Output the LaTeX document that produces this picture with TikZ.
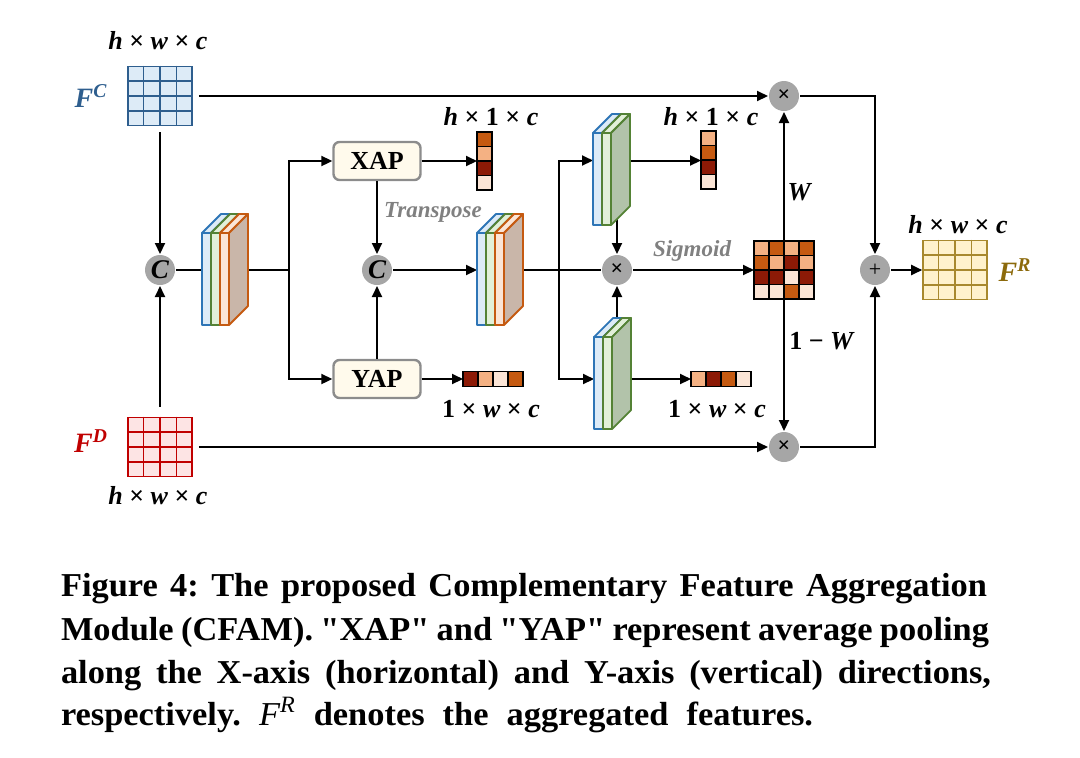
\documentclass[tikz,border=0pt]{standalone}
\usepackage{fontspec}
\setmainfont{Liberation Serif}[Ligatures=TeXOff]
\newfontfamily\capfont{Liberation Serif}[Ligatures=TeXOff, FakeStretch=1.03]
\usetikzlibrary{arrows.meta,calc}
\frenchspacing

\definecolor{fcblue}{HTML}{2E5E8E}
\definecolor{fcfill}{HTML}{DDEBF7}
\definecolor{fdred}{HTML}{C00000}
\definecolor{fdfill}{HTML}{FDE4E4}
\definecolor{frgold}{HTML}{A8892E}
\definecolor{frfill}{HTML}{FFF2CC}
\definecolor{frtext}{HTML}{8C6A0C}
\definecolor{lblue}{HTML}{2E75B6}
\definecolor{lbluefill}{HTML}{DDEBF7}
\definecolor{lblueside}{HTML}{BDD7EE}
\definecolor{lgreen}{HTML}{548235}
\definecolor{lgreenfill}{HTML}{E2F0D9}
\definecolor{lgreenside}{HTML}{B2C3AA}
\definecolor{lorange}{HTML}{C55A11}
\definecolor{lorangefill}{HTML}{FBE5D6}
\definecolor{lorangeside}{HTML}{C9B6A9}
\definecolor{vdark}{HTML}{C55A11}
\definecolor{vlight}{HTML}{F4B183}
\definecolor{vred}{HTML}{8C1A06}
\definecolor{vpale}{HTML}{FBE5D6}
\definecolor{opgray}{HTML}{A6A6A6}
\definecolor{boxgray}{HTML}{8C8C8C}
\definecolor{boxfill}{HTML}{FFFAEC}
\definecolor{notegray}{HTML}{808080}

% one layer of a feature stack: x, front top, edge, fill, side fill
\newcommand{\featslab}[5]{%
  \filldraw[draw=#3, fill=#4, line width=0.9pt, line join=round] (#1,#2) rectangle ++(9,92);
  \filldraw[draw=#3, fill=#4, line width=0.9pt, line join=round] (#1,#2) -- ++(19,-19) -- ++(9,0) -- ++(-19,19) -- cycle;
  \filldraw[draw=#3, fill=#5, line width=0.9pt, line join=round] (#1+9,#2) -- ++(19,-19) -- ++(0,92) -- ++(-19,19) -- cycle;
}
% 4x4 feature map: name, x, y, edge, fill
\newcommand{\featgrid}[5]{%
  \node[draw=#4, fill=#5, line width=0.8pt, inner sep=0pt, minimum width=32pt, minimum height=29.5pt] (#1) at (#2,#3) {};
  \foreach \k in {1,2,3} {
    \draw[#4, line width=0.8pt] ($(#1.north west)!\k/4!(#1.north east)$) -- ($(#1.south west)!\k/4!(#1.south east)$);
    \draw[#4, line width=0.8pt] ($(#1.north west)!\k/4!(#1.south west)$) -- ($(#1.north east)!\k/4!(#1.south east)$);
  }
}

\begin{document}
\begin{tikzpicture}[x=0.5pt, y=-0.5pt, line width=1pt, >={Triangle[length=5.5pt,width=5pt]},
  op/.style={circle, fill=opgray, inner sep=0pt, minimum size=15pt, font=\fontsize{11}{11}\selectfont\bfseries},
  cat/.style={op, font=\fontsize{13.5}{13.5}\selectfont\bfseries\itshape},
  pool/.style={draw=boxgray, line width=1.2pt, fill=boxfill, rounded corners=3pt, minimum width=43.5pt, minimum height=19pt, font=\fontsize{13}{13}\selectfont\bfseries},
  spot/.style={inner sep=0pt, outer sep=0pt},
  dims/.style={font=\fontsize{13}{15}\selectfont\bfseries},
  flab/.style={font=\fontsize{14}{14}\selectfont\bfseries\itshape},
  note/.style={text=notegray, font=\fontsize{11.5}{13}\selectfont\bfseries\itshape},
  capline/.style={anchor=base west, inner sep=0pt, font=\capfont\fontsize{16.7}{20}\selectfont\bfseries}]
\useasboundingbox (0,0) rectangle (1080,757);

% feature maps
\featgrid{gc}{160}{96}{fcblue}{fcfill}
\featgrid{gd}{160}{447}{fdred}{fdfill}
\featgrid{gr}{955}{270}{frgold}{frfill}

% operators and pooling
\node[cat] (c1) at (160,270) {C};
\node[cat] (c2) at (377,270) {C};
\node[op] (m1) at (617,270) {×};
\node[op] (m2) at (784,96) {×};
\node[op] (m3) at (784,447) {×};
\node[op] (a1) at (875,270) {\mdseries +};
\node[pool] (xap) at (377,161) {XAP};
\node[pool] (yap) at (377,379) {YAP};

% places of stacks and vectors
\node[spot, minimum width=23pt, minimum height=55.5pt] (s1) at (225,270) {};
\node[spot, minimum width=23pt, minimum height=55.5pt] (s2) at (500,270) {};
\node[spot, minimum width=18.5pt, minimum height=55pt] (s3) at (611.5,169) {};
\node[spot, minimum width=18.5pt, minimum height=55pt] (s4) at (612.5,373) {};
\node[spot, minimum width=7.5pt, minimum height=29pt] (vx1) at (484.5,161) {};
\node[spot, minimum width=30pt, minimum height=7.5pt] (vy1) at (493,379) {};
\node[spot, minimum width=7.5pt, minimum height=29pt] (vx2) at (708.5,160.5) {};
\node[spot, minimum width=30pt, minimum height=7.5pt] (vy2) at (721,379) {};
\node[spot, minimum width=30pt, minimum height=29pt] (wm) at (784,270) {};
\coordinate (j1) at (289,270);
\coordinate (j2) at (559,270);

% connectors
\draw[->, shorten <=3pt] (gc) -- (m2);
\draw[->, shorten <=3pt] (gc) -- (c1);
\draw[->, shorten <=5pt] (gd) -- (c1);
\draw[->, shorten <=3pt] (gd) -- (m3);
\draw (c1) -- (s1);
\draw (s1) -- (j1);
\draw[->] (j1) |- (xap);
\draw[->] (j1) |- (yap);
\draw[->] (xap) -- (vx1);
\draw[->] (yap) -- (vy1);
\draw[->] (xap) -- (c2);
\draw[->] (yap) -- (c2);
\draw[->] (c2) -- (s2);
\draw (s2) -- (m1);
\draw[->] (j2) |- (s3.west |- vx2);
\draw[->] (j2) |- (s4.west |- vy2);
\draw[->] (s3.east |- vx2) -- (vx2);
\draw[->] (s4.east |- vy2) -- (vy2);
\draw[->] (m1 |- s3.center) -- (m1);
\draw[->] (m1 |- s4.center) -- (m1);
\draw[->] (m1) -- (wm);
\draw[->] (wm) -- (m2);
\draw[->] (wm) -- (m3);
\draw[->] (m2) -| (a1);
\draw[->] (m3) -| (a1);
\draw[->] (a1) -- (gr);

% feature stacks
\featslab{202}{233}{lblue}{lbluefill}{lblueside}
\featslab{211}{233}{lgreen}{lgreenfill}{lgreenside}
\featslab{220}{233}{lorange}{lorangefill}{lorangeside}
\featslab{477}{233}{lblue}{lbluefill}{lblueside}
\featslab{486}{233}{lgreen}{lgreenfill}{lgreenside}
\featslab{495}{233}{lorange}{lorangefill}{lorangeside}
\featslab{593}{133}{lblue}{lbluefill}{lblueside}
\featslab{602}{133}{lgreen}{lgreenfill}{lgreenside}
\featslab{594}{337}{lblue}{lbluefill}{lblueside}
\featslab{603}{337}{lgreen}{lgreenfill}{lgreenside}

% pooled vectors
\foreach \c [count=\k from 0] in {vdark,vlight,vred,vpale}
  \filldraw[fill=\c, draw=black, line width=0.75pt] (477,132+\k*14.5) rectangle ++(15,14.5);
\foreach \c [count=\k from 0] in {vred,vlight,vpale,vdark}
  \filldraw[fill=\c, draw=black, line width=0.75pt] (463+\k*15,371.5) rectangle ++(15,15);
\foreach \c [count=\k from 0] in {vlight,vdark,vred,vpale}
  \filldraw[fill=\c, draw=black, line width=0.75pt] (701,131+\k*14.5) rectangle ++(15,14.5);
\foreach \c [count=\k from 0] in {vlight,vred,vdark,vpale}
  \filldraw[fill=\c, draw=black, line width=0.75pt] (691+\k*15,371.5) rectangle ++(15,15);

% weight map
\foreach \row [count=\r from 0] in {{vlight,vdark,vlight,vdark},{vdark,vlight,vred,vlight},{vred,vred,vpale,vred},{vpale,vpale,vdark,vpale}}
  \foreach \c [count=\k from 0] in \row
    \filldraw[fill=\c, draw=black, line width=0.75pt] (754+\k*15,241+\r*14.5) rectangle ++(15,14.5);

% labels
\node[dims] at (158,41) {\textit{h} × \textit{w} × \textit{c}};
\node[dims] at (158,496) {\textit{h} × \textit{w} × \textit{c}};
\node[dims] at (958,225) {\textit{h} × \textit{w} × \textit{c}};
\node[dims] at (491,117) {\textit{h} × 1 × \textit{c}};
\node[dims] at (711,117) {\textit{h} × 1 × \textit{c}};
\node[dims] at (491,409) {1 × \textit{w} × \textit{c}};
\node[dims] at (717,409) {1 × \textit{w} × \textit{c}};
\node[flab, text=fcblue] at (91,96) {F\textsuperscript{C}};
\node[flab, text=fdred] at (91,441) {F\textsuperscript{D}};
\node[flab, text=frtext] at (1015,270) {F\textsuperscript{R}};
\node[note] at (433,212) {Transpose};
\node[note] at (692,251) {Sigmoid};
\node[dims] at (800,192) {\textit{W}};
\node[dims] at (822,341) {1 − \textit{W}};

% caption
\node[capline] at (60,596) {\makebox[463pt][s]{Figure 4: The proposed Complementary Feature Aggregation}};
\node[capline] at (60,640) {\makebox[464pt][s]{Module (CFAM). "XAP" and "YAP" represent average pooling}};
\node[capline] at (60,683) {\makebox[465pt][s]{along the X-axis (horizontal) and Y-axis (vertical) directions,}};
\node[capline] at (60,725) {\makebox[376pt][s]{respectively. {\mdseries\itshape F\textsuperscript{R}} denotes the aggregated features.}};
\end{tikzpicture}
\end{document}
